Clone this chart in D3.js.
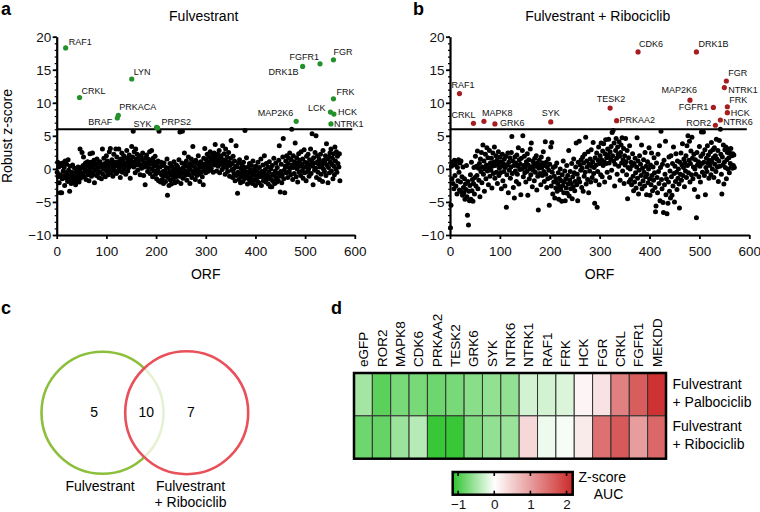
<!DOCTYPE html>
<html>
<head>
<meta charset="utf-8">
<script src="https://cdn.jsdelivr.net/npm/d3@7"></script>
<style>
  html, body { margin: 0; padding: 0; background: #fff; }
  svg { display: block; font-family: "Liberation Sans", Arial, Helvetica, sans-serif; }
  .tick text { font-size: 13.5px; fill: #111; }
  .ptlab { font-size: 9px; fill: #111; }
</style>
</head>
<body>
<svg id="fig" width="760" height="512"></svg>
<script>
// ---- Data ----

// a: robust z-score per ORF (ORF 1..570), Fulvestrant screen
const zFulv = [
  -0.5, 1.0, -1.2, 0.3, -2.1, 0.8, -3.6, -0.9, 0.5, -3.6,
  -1.5, 0.9, -0.3, -1.1, 0.2, -2.5, 1.2, -0.6, -1.4, 0.7,
  -0.8, -1.9, 1.4, -0.2, -1.3, -3.4, 0.4, -1.0, -2.2, -0.5,
  -1.6, 0.6, -2.0, -0.9, -1.7, 0.1, -1.2, -2.4, -0.4, -1.5,
  -0.7, -1.9, 0.3, -1.1, -2.0, -0.2, 3.0, -1.4, -0.6, 0.2,
  2.5, -0.8, 0.5, 1.8, -1.2, 0.0, -0.5, 0.9, -1.6, 0.4,
  -0.3, 1.1, -0.9, 0.6, -1.8, 0.2, 2.3, -0.4, 1.0, -1.1,
  0.5, 2.4, -0.7, 0.1, 1.3, -2.1, 0.8, -0.2, 0.6, -1.0,
  1.5, 0.0, -0.6, 0.9, -1.3, 0.3, 1.1, -0.5, 0.7, -1.5,
  0.2, 3.0, -0.8, 0.4, 1.6, -0.1, 0.8, -1.2, 0.5, 2.0,
  -0.4, 1.2, 0.3, -0.9, 0.7, 2.6, -0.3, 3.1, 0.9, -0.6,
  1.4, 0.2, -1.1, 0.6, 2.2, -0.2, 1.0, 0.4, 3.0, -0.7,
  1.8, 0.5, -0.4, 1.1, 3.0, 0.0, 0.8, -1.3, 1.5, 0.3,
  2.4, -0.5, 1.2, 0.6, 2.0, -0.1, 0.9, 1.7, -0.8, 0.4,
  2.8, 1.0, -0.3, 1.6, 0.2, 2.1, 0.7, -1.4, 1.3, 0.5,
  3.4, 0.9, 1.8, 5.7, 0.3, 2.6, 1.1, -0.6, 3.0, 1.5,
  0.6, 2.2, -0.2, 1.2, 0.8, 2.0, 1.6, -0.9, 0.4, 1.9,
  0.1, 1.4, 2.4, 0.7, -1.0, 1.0, 0.3, -2.4, 1.7, 0.5,
  2.1, 0.9, -0.4, 1.5, 0.2, 1.1, 2.6, -0.7, 0.8, 1.3,
  2.8, 0.0, -1.2, 1.6, 0.5, -0.3, 1.0, 1.9, -0.8, 0.4,
  -1.5, 0.7, -0.2, 1.2, -1.8, 5.7, -0.6, 0.3, -2.0, 1.0,
  -0.9, -1.6, 0.5, -0.4, -2.2, 0.9, -1.1, -0.3, -1.9, 0.2,
  -0.7, 1.5, -4.0, -1.3, 0.1, -2.5, -0.5, 0.8, -1.7, -0.9,
  -2.3, 0.4, -1.0, -0.2, -1.5, 1.1, -0.6, -2.1, 0.0, -1.2,
  0.6, -0.8, -1.9, 0.3, -0.4, 1.4, -1.1, 5.6, -0.1, -2.2,
  -0.7, 0.9, 5.7, -1.4, 0.2, -0.5, 2.4, -1.0, 0.7, -0.3,
  1.2, -1.7, 0.4, -0.6, 1.8, -0.9, 0.1, -2.2, 0.8, -0.2,
  1.5, -1.3, 0.5, 3.4, -0.7, 1.0, -0.4, 0.3, -1.6, 1.3,
  0.0, -1.0, 0.9, -0.3, 2.0, -0.8, 0.6, -1.9, 0.2, 1.1,
  -0.5, 0.8, -1.2, 0.4, -2.4, 1.6, -0.1, 3.1, 0.7, -0.6,
  1.4, 0.3, 2.2, -0.4, 1.0, 1.8, 0.5, -0.2, 2.6, 1.2,
  0.1, 1.6, 2.0, 0.8, -0.5, 1.3, 2.4, 0.6, 3.7, 1.9,
  0.9, -0.3, 1.5, 2.2, 0.4, 1.1, 2.8, -0.6, 1.7, 0.7,
  2.0, 1.0, -0.1, 3.5, 1.4, 0.3, 2.3, 0.9, -0.8, 3.0,
  1.2, 0.2, 1.8, -0.4, 0.6, 2.5, 1.0, -1.1, 0.5, 1.6,
  4.3, -0.2, 0.8, -1.3, 1.9, 0.0, -0.7, 1.2, -1.8, 0.4,
  3.5, -1.0, 0.3, -3.7, -0.5, 0.9, -1.6, 1.4, -0.8, -2.1,
  0.1, -1.2, 0.6, -0.3, -1.9, 1.0, -0.9, 0.2, 5.8, -1.4,
  -0.4, 1.7, -1.1, -2.3, 0.3, -0.7, -1.5, 0.8, -2.0, -0.2,
  -1.3, 0.5, -0.8, -2.2, 1.2, -0.5, -1.7, 0.0, -1.0, -2.5,
  0.4, -1.4, -0.3, -1.9, 1.0, -0.9, -2.1, 0.2, -1.2, -0.6,
  1.5, -2.5, -0.4, -1.1, 0.6, -1.8, -0.7, 2.0, -1.3, -0.1,
  -2.0, 0.8, -0.9, -1.5, 0.3, -2.3, -0.5, 1.1, -1.2, -2.7,
  0.0, -1.6, -2.7, 0.5, -0.8, -1.9, 1.6, -1.0, -2.2, -0.3,
  0.9, -1.4, -2.0, 0.2, -0.7, -1.8, 1.3, 3.5, -1.1, -3.5,
  -0.4, 0.7, -2.1, -0.9, 1.8, 4.6, -1.5, -0.2, -3.6, 0.4,
  1.2, -0.6, 2.0, 0.3, -1.3, 0.8, 1.6, -0.4, 2.4, 0.1,
  -0.9, 1.4, 6.0, 0.6, -1.6, 2.0, 0.2, -0.7, 1.1, 3.9,
  0.5, -1.2, 1.7, 0.0, -2.0, 0.9, 2.3, -0.5, 1.3, 0.4,
  -1.0, 2.6, 0.7, -0.3, 1.5, -1.4, 0.2, 2.9, -0.6, 1.0,
  0.3, -1.8, 1.9, 0.8, -0.4, 2.2, 0.0, -1.1, 1.4, 0.6,
  3.0, -0.7, 1.2, 5.3, 0.4, -2.4, 1.7, 0.9, -0.2, 2.5,
  0.1, 5.0, -1.3, 1.0, 2.0, -0.5, 0.7, 1.5, -1.6, 0.3,
  2.2, -0.8, 1.1, 0.5, -1.9, 2.8, 0.0, 1.3, -0.4, 0.9,
  2.0, -1.0, 3.8, 0.6, 1.5, -2.1, 0.2, 1.8, -0.6, 2.4,
  1.0, 3.0, -0.3, 0.7, 1.6, -1.5, 2.3, 0.4, -0.9, 3.3,
  1.2, 0.0, 2.6, -0.5, 1.9, 0.8, 2.2, 0.3, 2.3, -1.8
];
const hitNamesA = ["RAF1", "CRKL", "LYN", "PRKACA", "BRAF", "SYK", "PRPS2", "MAP2K6", "DRK1B", "FGFR1", "FGR", "FRK", "LCK", "HCK", "NTRK1"];
const hitOrfA   = [18, 46, 151, 124, 122, 201, 203, 482, 495, 530, 557, 557, 551, 558, 552];
const hitZA     = [18.3, 10.8, 13.6, 8.1, 7.7, 6.3, 6.2, 7.2, 15.5, 15.9, 16.5, 10.6, 8.6, 8.3, 6.8];

// b: robust z-score per ORF, Fulvestrant + Ribociclib screen
const zFulvRibo = [
  -8.9, -5.5, 0.4, -1.5, 1.0, -2.2, 0.8, -3.0, 1.3, -1.0,
  0.6, -2.6, 1.1, -3.8, 0.2, -1.8, 1.4, -0.5, -3.2, 0.9,
  -2.0, 1.2, -3.5, -1.2, -4.0, 0.3, -2.8, -3.6, -1.5, -4.6,
  -2.3, -3.1, 0.5, -4.2, -7.0, -1.9, -8.5, -3.4, -4.8, -2.5,
  -0.9, -4.6, 1.0, -3.3, -1.6, -4.9, -2.2, 0.2, -3.8, -1.3,
  1.9, -2.6, 0.4, -1.0, 2.7, -3.0, 0.1, -1.7, 0.8, -4.2,
  1.5, -0.4, 2.5, -2.1, 0.3, 3.6, -0.8, 1.2, -3.4, 0.0,
  2.2, -1.5, 0.6, 3.2, -0.3, 1.7, -2.4, 0.2, 2.8, -1.1,
  0.9, -0.2, 1.6, -2.9, 0.4, 2.4, -0.7, 1.0, 3.3, -1.4,
  0.5, 2.0, -0.5, 1.3, -2.2, 0.7, 2.6, -1.0, 0.1, 1.8,
  -0.6, 1.1, -3.0, 0.4, 2.2, -1.8, 0.8, -0.4, 1.5, -2.6,
  0.2, 1.9, -5.8, -0.9, 0.6, 2.4, -3.6, 1.0, -0.2, 1.7,
  -1.4, 0.3, 2.5, 4.9, -0.7, 1.2, -2.8, 0.5, -4.4, 1.8,
  -0.3, 0.9, -1.9, 2.1, -0.8, 0.4, 3.2, -2.3, 1.4, -0.1,
  0.7, -3.9, 1.6, 0.0, 2.8, 5.0, -1.2, 0.5, 1.9, -0.6,
  0.2, -2.0, 1.1, -0.4, 2.3, -4.0, 0.6, 1.4, -1.5, 0.0,
  3.0, -0.9, 3.9, 0.3, -2.7, 1.2, -0.2, 0.8, -1.8, 1.6,
  -0.5, 0.4, 2.0, -3.2, 0.9, -1.1, -6.2, 0.1, 1.3, -0.7,
  0.6, -2.4, 1.8, 0.2, -1.0, 0.9, 2.6, -0.4, -1.9, 0.5,
  4.1, -0.8, 1.0, -2.8, 0.3, -1.5, 1.5, -0.2, -5.5, 0.7,
  -1.3, 3.3, -2.6, 4.0, -0.5, -3.8, 0.2, -2.0, -1.1, -4.4,
  0.4, -2.9, -1.6, 0.9, -3.4, -2.2, -0.6, -4.6, -1.4, -2.7,
  0.0, -3.1, -1.8, -4.9, -0.9, -2.5, 1.2, -3.6, -2.0, -0.3,
  -4.8, -1.5, -2.9, 0.5, -3.7, -1.0, -2.3, 2.8, -4.1, -1.7,
  -0.4, -3.0, -2.2, 0.8, -4.5, -1.2, -2.7, 1.5, -0.6, -3.3,
  -1.9, 0.3, 3.9, -2.4, -0.8, -4.8, 1.0, -1.5, 4.2, -2.0,
  0.6, -0.2, 1.4, -2.8, 0.1, 1.8, -3.4, 0.9, -1.1, 2.2,
  -0.5, 4.8, -2.3, 1.2, 0.3, -1.6, 2.6, -3.6, 0.7, -0.3,
  1.5, -2.0, 2.9, 0.4, -1.3, 1.1, 4.0, -0.7, 0.2, -5.2,
  1.7, -1.8, 0.6, 2.4, -5.8, -0.4, 1.3, 3.3, -2.4, 0.8,
  2.0, -0.9, 3.9, 1.4, -1.2, 2.7, 0.5, 3.8, 1.1, -2.0,
  2.3, 4.4, 0.8, 1.7, -0.5, 3.0, 2.1, 4.5, 0.9, -1.3,
  2.6, 1.5, 3.4, -0.2, 5.5, 2.0, 5.8, 1.2, 3.9, -2.6,
  0.7, 2.8, 4.6, 1.6, -0.8, 3.3, 2.2, 0.4, 4.1, 1.9,
  -1.7, 2.5, 3.6, 0.9, 4.7, -0.3, 1.4, 3.1, -2.2, 2.0,
  0.6, 4.6, 1.1, -0.9, 2.8, -4.5, 0.2, 1.7, -2.0, 3.5,
  0.0, -1.6, 1.0, -2.4, 0.5, 2.3, -1.1, -3.3, 0.8, -2.0,
  1.6, -0.6, -2.9, 0.3, 4.7, -1.4, 1.2, -3.8, -0.2, 2.0,
  -2.3, 0.7, -1.0, 3.6, -3.0, 0.1, -1.8, 1.4, -0.5, -2.6,
  2.5, -1.2, 0.4, -3.9, -0.8, 1.1, -2.1, 0.0, 3.2, -1.5,
  -4.0, 0.6, -2.4, 2.4, -1.0, -3.3, 0.3, -1.7, 1.7, -0.6,
  -2.8, -6.5, -5.6, 0.9, -1.3, -3.6, 2.2, -0.4, -2.2, 3.5,
  -4.8, 0.2, 5.7, -1.6, -3.0, 0.7, -5.1, -6.6, 1.3, -2.4,
  -0.8, 4.2, -3.9, -1.5, -6.8, 0.5, -5.2, -2.0, 1.8, -3.4,
  -0.3, -4.4, 2.0, -1.2, -4.0, 0.8, -2.6, 3.3, -0.7, -5.0,
  0.4, -1.9, 2.3, -0.5, -3.1, 1.2, -1.4, 0.0, -2.3, -5.9,
  1.0, -0.8, 2.4, -1.7, 0.6, 3.8, -1.0, 0.2, 1.5, -2.7,
  0.9, -0.3, 2.0, -1.3, 3.5, 0.5, 5.0, -0.6, 1.3, 4.2,
  -2.0, 0.8, 2.7, -0.9, 4.8, 1.6, -1.5, 0.3, 2.2, -3.1,
  0.0, 1.4, -0.8, -7.4, 2.5, 0.6, -4.2, 1.1, -1.2, 3.4,
  0.4, -2.0, 1.9, 5.6, 0.8, -0.5, 2.3, 5.6, 1.0, -1.0,
  2.9, -3.9, 0.2, 1.6, -0.4, 3.5, 0.9, 2.1, -1.4, 1.3,
  0.5, 2.6, -0.9, 4.0, 1.1, 0.0, 2.9, 1.7, -1.3, 3.2,
  0.7, 2.0, -0.4, 4.5, 1.5, 0.3, 2.8, -1.9, 1.2, 4.3,
  0.4, 6.0, 2.2, -0.8, -3.8, 1.8, 0.6, 3.6, -2.3, 1.0,
  2.9, 0.2, 3.3, -1.5, 1.4, 2.5, 0.0, 3.0, 1.7, -0.6,
  2.4, 0.8, 3.1, 0.3, 2.0, 0.1, 2.3, 0.5, 2.1, 0.2
];
const hitNamesB = ["RAF1", "CRKL", "MAPK8", "GRK6", "SYK", "TESK2", "PRKAA2", "CDK6", "DRK1B", "MAP2K6", "FGFR1", "ROR2", "NTRK6", "FGR", "NTRK1", "FRK", "HCK"];
const hitOrfB   = [19, 47, 68, 90, 202, 321, 334, 377, 494, 481, 528, 532, 542, 554, 550, 556, 556];
const hitZB     = [11.4, 6.9, 7.2, 6.8, 7.1, 9.2, 7.3, 17.7, 17.7, 10.4, 9.3, 6.6, 7.4, 13.3, 12.3, 9.4, 8.5];

const xTicks = [0, 100, 200, 300, 400, 500, 600];
const yTicks = [-10, -5, 0, 5, 10, 15, 20];
const cutoff = 6;

// c: Venn counts
const vennSets   = ["Fulvestrant", "Fulvestrant + Ribociclib"];
const vennCounts = [5, 10, 7];   // only A, both, only B

// d: heatmap of Z-score AUC
const heatGenes = ["eGFP", "ROR2", "MAPK8", "CDK6", "PRKAA2", "TESK2", "GRK6", "SYK", "NTRK6",
                   "NTRK1", "RAF1", "FRK", "HCK", "FGR", "CRKL", "FGFR1", "MEKDD"];
const heatRows  = [["Fulvestrant", "+ Palbociclib"], ["Fulvestrant", "+ Ribociclib"]];
const heatPalbo = [-0.5, -0.9, -0.75, -0.75, -0.8, -0.75, -0.65, -0.6, -0.6, -0.25, -0.25, -0.2, 0.1, 0.3, 1.3, 1.65, 2.1];
const heatRibo  = [-0.8, -0.85, -0.55, -0.4, -1.1, -1.1, -0.7, -0.6, -0.55, 0.4, -0.1, -0.05, 0.2, 1.45, 1.7, 1.0, 1.55];
const cbTicks   = [-1, 0, 1, 2];

// ---- Layout / label placement (not data) ----
const labA = {
  RAF1: [3, -3, "start"], CRKL: [2, -4, "start"], LYN: [2, -4, "start"],
  PRKACA: [1, -5, "start"], BRAF: [-5, 7, "end"], SYK: [-5, 0, "end"],
  PRPS2: [4, -3, "start"], MAP2K6: [-3, -5, "end"], DRK1B: [-4, 9, "end"],
  FGFR1: [-1, -4, "end"], FGR: [0, -5, "start"], FRK: [3, -4, "start"],
  LCK: [-5, -1, "end"], HCK: [4, 1, "start"], NTRK1: [3, 3, "start"]
};
const labB = {
  RAF1: [-8, -6, "start"], CRKL: [2, -5, "end"], MAPK8: [-2, -5, "start"],
  GRK6: [5, 2.5, "start"], SYK: [-9, -6, "start"], TESK2: [1, -6, "middle"],
  PRKAA2: [3, 2, "start"], CDK6: [1, -5, "start"], DRK1B: [2, -5, "start"],
  MAP2K6: [7, -7, "end"], FGFR1: [-5, 3, "end"], ROR2: [-4, 1, "end"],
  NTRK6: [3, 5, "start"], FGR: [2, -5, "start"], NTRK1: [4, 5, "start"],
  FRK: [2, -4, "start"], HCK: [3.5, 3, "start"]
};

const svg = d3.select("#fig");
const FONT = 14;

function scatterPanel(opts) {
  const g = svg.append("g");
  const x = d3.scaleLinear().domain([0, 600]).range([opts.x0, opts.x1]);
  const y = d3.scaleLinear().domain([-10, 20]).range([235, 36.7]);

  // minor y ticks
  g.append("g")
    .attr("transform", `translate(${opts.x0},0)`)
    .call(d3.axisLeft(y).tickValues(d3.range(-10, 21)).tickSize(2).tickFormat(""))
    .call(a => a.select(".domain").remove())
    .selectAll("line").attr("stroke", "#000").attr("stroke-width", 1.2);

  const gy = g.append("g")
    .attr("transform", `translate(${opts.x0},0)`)
    .call(d3.axisLeft(y).tickValues(yTicks).tickSize(4).tickSizeOuter(0).tickPadding(1.5));
  gy.select(".domain").attr("stroke-width", 2.2);
  gy.selectAll(".tick line").attr("stroke-width", 1.8);

  const gx = g.append("g")
    .attr("transform", `translate(0,235)`)
    .call(d3.axisBottom(x).tickValues(xTicks).tickSize(4).tickSizeOuter(0).tickPadding(7));
  gx.select(".domain").attr("stroke-width", 2.2);
  gx.selectAll(".tick line").attr("stroke-width", 1.8);

  // threshold
  g.append("line")
    .attr("x1", x(0)).attr("x2", x(595))
    .attr("y1", y(cutoff)).attr("y2", y(cutoff))
    .attr("stroke", "#000").attr("stroke-width", 2);

  // background ORFs
  g.append("g").selectAll("circle")
    .data(opts.values)
    .join("circle")
    .attr("cx", (d, i) => x(i + 1))
    .attr("cy", d => y(d))
    .attr("r", 2.5)
    .attr("fill", "#000");

  const hits = opts.names.map((n, i) => ({ name: n, orf: opts.orfs[i], z: opts.zs[i] }));
  g.append("g").selectAll("circle")
    .data(hits)
    .join("circle")
    .attr("cx", d => x(d.orf))
    .attr("cy", d => y(d.z))
    .attr("r", 2.6)
    .attr("fill", opts.hitColor);

  g.append("g").selectAll("text")
    .data(hits)
    .join("text")
    .attr("class", "ptlab")
    .attr("x", d => x(d.orf) + opts.lab[d.name][0])
    .attr("y", d => y(d.z) + opts.lab[d.name][1])
    .attr("text-anchor", d => opts.lab[d.name][2])
    .text(d => d.name);

  // titles
  g.append("text")
    .attr("x", opts.titleX).attr("y", 20.5)
    .attr("text-anchor", "middle").attr("font-size", FONT)
    .text(opts.title);
  g.append("text")
    .attr("x", (opts.x0 + x(600)) / 2).attr("y", 278.5)
    .attr("text-anchor", "middle").attr("font-size", FONT)
    .text("ORF");
  return g;
}

scatterPanel({ x0: 56.7, x1: 354.8, values: zFulv, names: hitNamesA, orfs: hitOrfA, zs: hitZA,
  hitColor: "#23912a", lab: labA, title: "Fulvestrant", titleX: 203.7 });
scatterPanel({ x0: 450, x1: 749.3, values: zFulvRibo, names: hitNamesB, orfs: hitOrfB, zs: hitZB,
  hitColor: "#a61d1f", lab: labB, title: "Fulvestrant + Ribociclib", titleX: 597.7 });

// y axis title (panel a only)
svg.append("text")
  .attr("transform", "translate(11.5,136) rotate(-90)")
  .attr("text-anchor", "middle").attr("font-size", FONT)
  .text("Robust z-score");

// panel letters
[["a", 1, 15], ["b", 413, 15], ["c", 1, 314], ["d", 331, 314]].forEach(([t, px, py]) => {
  svg.append("text").attr("x", px).attr("y", py)
    .attr("font-size", 18).attr("font-weight", "bold").text(t);
});

// ---- c: Venn ----
const venn = svg.append("g");
const vx = d3.scaleLinear().domain([0, 1]).range([102.5, 186.7]);
const vr = 61;
venn.append("circle").attr("cx", vx(0)).attr("cy", 412.7).attr("r", vr)
  .attr("fill", "none").attr("stroke", "#8cbf3c").attr("stroke-width", 2.6);
venn.append("circle").attr("cx", vx(1)).attr("cy", 412.7).attr("r", vr + 0.5)
  .attr("fill", "#fff").attr("fill-opacity", 0.78)
  .attr("stroke", "#e8505a").attr("stroke-width", 2.6);
const countX = [vx(-0.1), vx(0.52), vx(1.05)];
vennCounts.forEach((c, i) => {
  venn.append("text").attr("x", countX[i]).attr("y", 417)
    .attr("text-anchor", "middle").attr("font-size", FONT).text(c);
});
venn.append("text").attr("x", 100).attr("y", 490.5)
  .attr("text-anchor", "middle").attr("font-size", FONT).text(vennSets[0]);
const vb = venn.append("text").attr("x", 190.5).attr("y", 490.5)
  .attr("text-anchor", "middle").attr("font-size", FONT);
vb.append("tspan").attr("x", 190.5).text("Fulvestrant");
vb.append("tspan").attr("x", 190.5).attr("dy", 16.2).text("+ Ribociclib");

// ---- d: heatmap ----
const hm = svg.append("g");
const hx = d3.scaleBand().domain(heatGenes).range([354, 666]);
const hy = d3.scaleBand().domain([0, 1]).range([373, 458.7]);
const color = d3.scaleLinear().domain([-1.15, 0, 2.17])
  .range(["#2ec42e", "#ffffff", "#cc2b2b"]);

const cells = [];
[heatPalbo, heatRibo].forEach((row, r) => row.forEach((v, c) => cells.push({ r, gene: heatGenes[c], v })));
hm.append("g").selectAll("rect")
  .data(cells)
  .join("rect")
  .attr("x", d => hx(d.gene))
  .attr("y", d => hy(d.r))
  .attr("width", hx.bandwidth())
  .attr("height", hy.bandwidth())
  .attr("fill", d => color(d.v))
  .attr("stroke", "#333")
  .attr("stroke-width", 1);
hm.append("rect").attr("x", 354).attr("y", 373).attr("width", 312).attr("height", 85.7)
  .attr("fill", "none").attr("stroke", "#000").attr("stroke-width", 2.5);

hm.append("g").selectAll("text")
  .data(heatGenes)
  .join("text")
  .attr("transform", d => `translate(${hx(d) + hx.bandwidth() / 2 + 5},367) rotate(-90)`)
  .attr("font-size", 13.5)
  .text(d => d);

heatRows.forEach((lines, r) => {
  const t = hm.append("text").attr("x", 672.5).attr("y", hy(r) + 15.5).attr("font-size", FONT);
  t.append("tspan").attr("x", 672.5).text(lines[0]);
  t.append("tspan").attr("x", 672.5).attr("dy", 18).text(lines[1]);
});

// colour bar
const cbx = d3.scaleLinear().domain([-1.15, 2.17]).range([452.7, 572.7]);
const defs = svg.append("defs");
const grad = defs.append("linearGradient").attr("id", "cbgrad");
d3.range(0, 1.0001, 0.05).forEach(t => {
  const v = -1.15 + t * (2.17 + 1.15);
  grad.append("stop").attr("offset", t).attr("stop-color", color(v));
});
hm.append("rect").attr("x", cbx(-1.15)).attr("y", 472).attr("width", cbx(2.17) - cbx(-1.15)).attr("height", 22.7)
  .attr("fill", "url(#cbgrad)").attr("stroke", "#000").attr("stroke-width", 2.5);
const cbAxis = hm.append("g").attr("transform", "translate(0,494.7)")
  .call(d3.axisBottom(cbx).tickValues(cbTicks).tickSize(0).tickPadding(5).tickFormat(d3.format("d")));
cbAxis.select(".domain").remove();
cbAxis.selectAll("text").attr("font-size", 13.5);
cbTicks.forEach(v => {
  hm.append("line").attr("x1", cbx(v)).attr("x2", cbx(v)).attr("y1", 472).attr("y2", 476)
    .attr("stroke", "#000").attr("stroke-width", 1.6);
  hm.append("line").attr("x1", cbx(v)).attr("x2", cbx(v)).attr("y1", 490.7).attr("y2", 494.7)
    .attr("stroke", "#000").attr("stroke-width", 1.6);
});
hm.append("text").attr("x", 578.5).attr("y", 482).attr("font-size", FONT).text("Z-score");
hm.append("text").attr("x", 608.5).attr("y", 498.5).attr("text-anchor", "middle").attr("font-size", FONT).text("AUC");
</script>
</body>
</html>
